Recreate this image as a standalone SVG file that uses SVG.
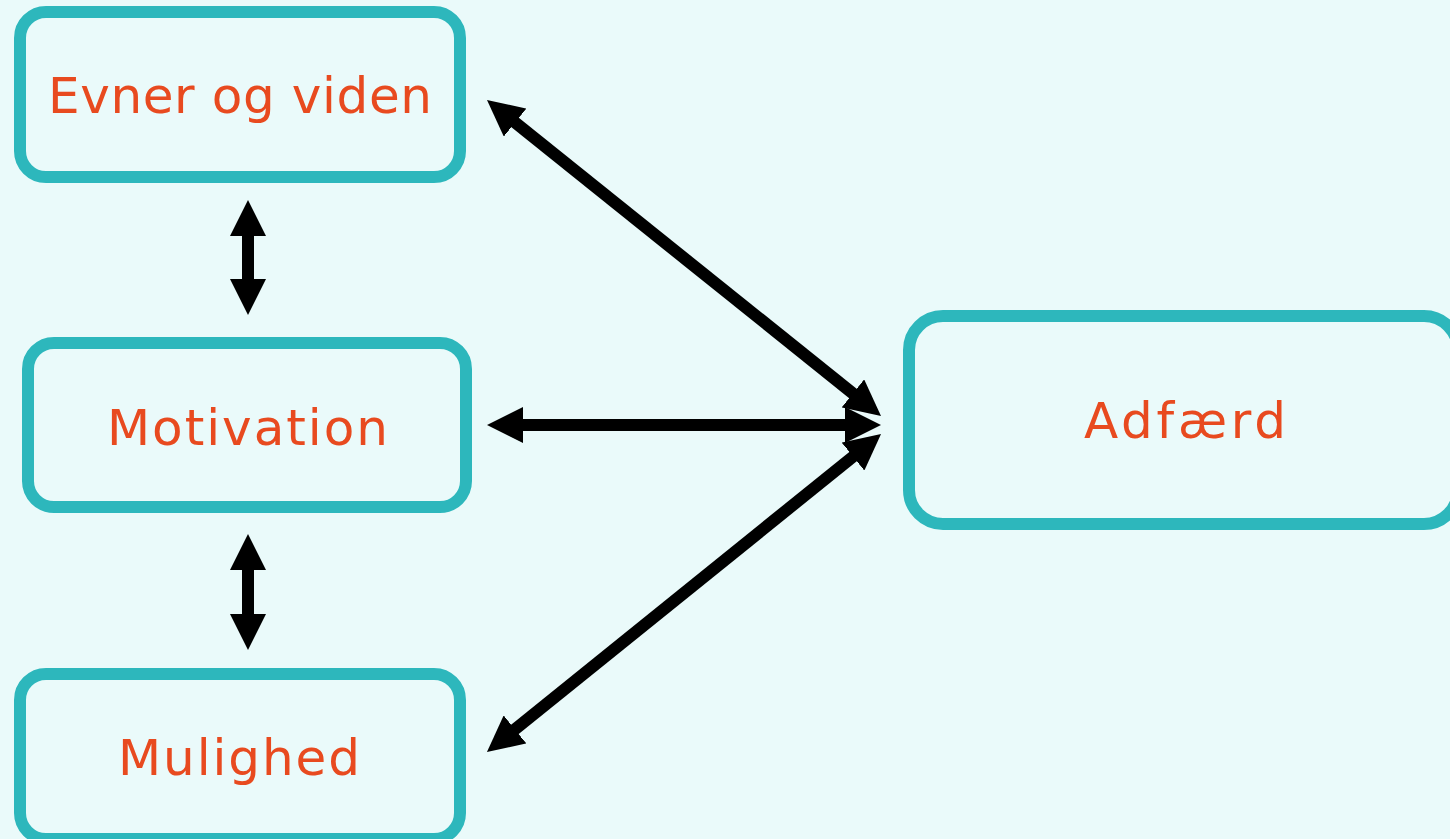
<svg xmlns="http://www.w3.org/2000/svg" width="1450" height="839" viewBox="0 0 1450 839">
  <defs>
    <style>
      .box { fill: #EAFAFA; stroke: #2DB7BC; stroke-width: 12; }
      .lbl { font-family: "DejaVu Sans", Lato, sans-serif; font-size: 50px; fill: #E84A1F; text-anchor: middle; }
      .conn { stroke: #000; stroke-width: 12; fill: none; marker-start: url(#ah); marker-end: url(#ah); }
    </style>
    <marker id="ah" viewBox="0 0 36 36" markerUnits="userSpaceOnUse" markerWidth="36" markerHeight="36" refX="6" refY="18" orient="auto-start-reverse">
      <path d="M0,0 L36,18 L0,36 z" fill="#000"/>
    </marker>
  </defs>
  <rect width="1450" height="839" fill="#EAFAFA"/>
  <g id="node-evner">
    <rect class="box" x="20" y="12" width="440" height="165" rx="26"/>
    <text class="lbl" x="240" y="113" textLength="384" lengthAdjust="spacing">Evner og viden</text>
  </g>
  <g id="node-motivation">
    <rect class="box" x="28" y="343" width="438" height="164" rx="26"/>
    <text class="lbl" x="247.5" y="445" textLength="281" lengthAdjust="spacing">Motivation</text>
  </g>
  <g id="node-mulighed">
    <rect class="box" x="20" y="674" width="440" height="165" rx="26"/>
    <text class="lbl" x="239" y="775" textLength="242" lengthAdjust="spacing">Mulighed</text>
  </g>
  <g id="node-adfaerd">
    <rect class="box" x="909" y="316" width="549" height="208" rx="34"/>
    <text class="lbl" x="1185" y="438" textLength="202" lengthAdjust="spacing">Adfærd</text>
  </g>
  <g id="connectors">
    <line class="conn" x1="248" y1="230" x2="248" y2="285"/>
    <line class="conn" x1="248" y1="564" x2="248" y2="620"/>
    <line class="conn" x1="517" y1="425" x2="851" y2="425"/>
    <line class="conn" x1="510.4" y1="118.8" x2="857.6" y2="397.2"/>
    <line class="conn" x1="857.7" y1="452.8" x2="510.3" y2="733.2"/>
  </g>
</svg>
